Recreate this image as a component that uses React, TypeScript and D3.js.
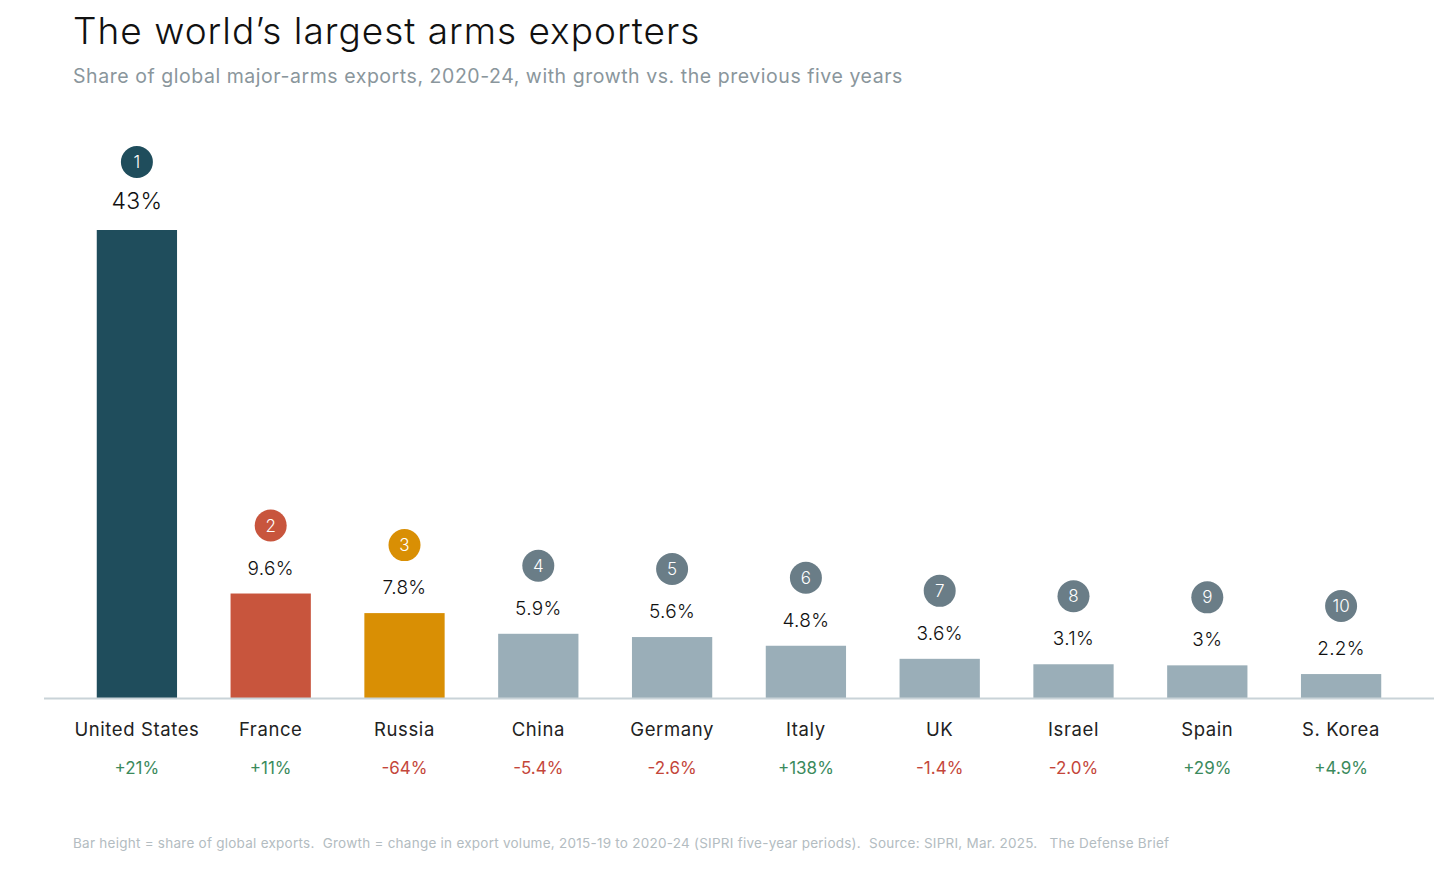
import * as d3 from "d3";

const countries = ["United States", "France", "Russia", "China", "Germany", "Italy", "UK", "Israel", "Spain", "S. Korea"];
const shares = [43, 9.6, 7.8, 5.9, 5.6, 4.8, 3.6, 3.1, 3, 2.2];
const shareLabels = ["43%", "9.6%", "7.8%", "5.9%", "5.6%", "4.8%", "3.6%", "3.1%", "3%", "2.2%"];
const growth = [21, 11, -64, -5.4, -2.6, 138, -1.4, -2.0, 29, 4.9];
const growthLabels = ["+21%", "+11%", "-64%", "-5.4%", "-2.6%", "+138%", "-1.4%", "-2.0%", "+29%", "+4.9%"];
const barColors = ["#1f4d5c", "#c8553d", "#d98f04"];
const greyBar = "#9aaeb8";
const greyDot = "#6a7d87";

const font = "Inter, 'Noto Sans', sans-serif";

export default function App() {
    const width = 1456;
    const height = 874;
    const baseline = 698;
    const plotTop = 230;

    const x = d3.scaleBand<string>().domain(countries).range([70, 1408]).paddingInner(0.4).paddingOuter(0.2);
    const y = d3.scaleLinear([0, 43], [baseline, plotTop]);

    return (
        <svg width={width} height={height} style={{ position: "absolute", left: 0, top: 0, background: "#fff" }} fontFamily={font}>
            <text x={73} y={44} fontSize={37} fontWeight={300} fill="#111" letterSpacing={1}>The world’s largest arms exporters</text>
            <text x={73} y={83} fontSize={19.5} fontWeight={400} fill="#8a969c" letterSpacing={0.55}>Share of global major-arms exports, 2020-24, with growth vs. the previous five years</text>

            {countries.map((c, i) => {
                const cx = (x(c) ?? 0) + x.bandwidth() / 2;
                const top = y(shares[i]);
                const fill = i < 3 ? barColors[i] : greyBar;
                const dot = i < 3 ? barColors[i] : greyDot;
                return (
                    <g key={c}>
                        <rect x={x(c)} y={top} width={x.bandwidth()} height={baseline - top} fill={fill} />
                        <circle cx={cx} cy={top - 68} r={16} fill={dot} />
                        <text x={cx} y={top - 68} dy="0.36em" textAnchor="middle" fontSize={17} fontWeight={300} fill="#fff">{i + 1}</text>
                        <text x={cx} y={top - (i === 0 ? 21 : 19)} textAnchor="middle" fontSize={i === 0 ? 23 : 19} fontWeight={300} fill="#111" letterSpacing={0.3}>{shareLabels[i]}</text>
                        <text x={cx} y={736} textAnchor="middle" fontSize={18.5} fontWeight={400} fill="#222" letterSpacing={0.6}>{c}</text>
                        <text x={cx} y={774} textAnchor="middle" fontSize={17} fontWeight={400} fill={growth[i] >= 0 ? "#3b8a5c" : "#c4463a"}>{growthLabels[i]}</text>
                    </g>
                );
            })}

            <line x1={44} x2={1434} y1={baseline + 0.5} y2={baseline + 0.5} stroke="#c9d3d8" strokeWidth={2} />

            <text x={73} y={848} fontSize={13.5} fill="#b3bcc1" letterSpacing={0.25} style={{ whiteSpace: "pre" }}>Bar height = share of global exports.  Growth = change in export volume, 2015-19 to 2020-24 (SIPRI five-year periods).  Source: SIPRI, Mar. 2025.   The Defense Brief</text>
        </svg>
    );
}
